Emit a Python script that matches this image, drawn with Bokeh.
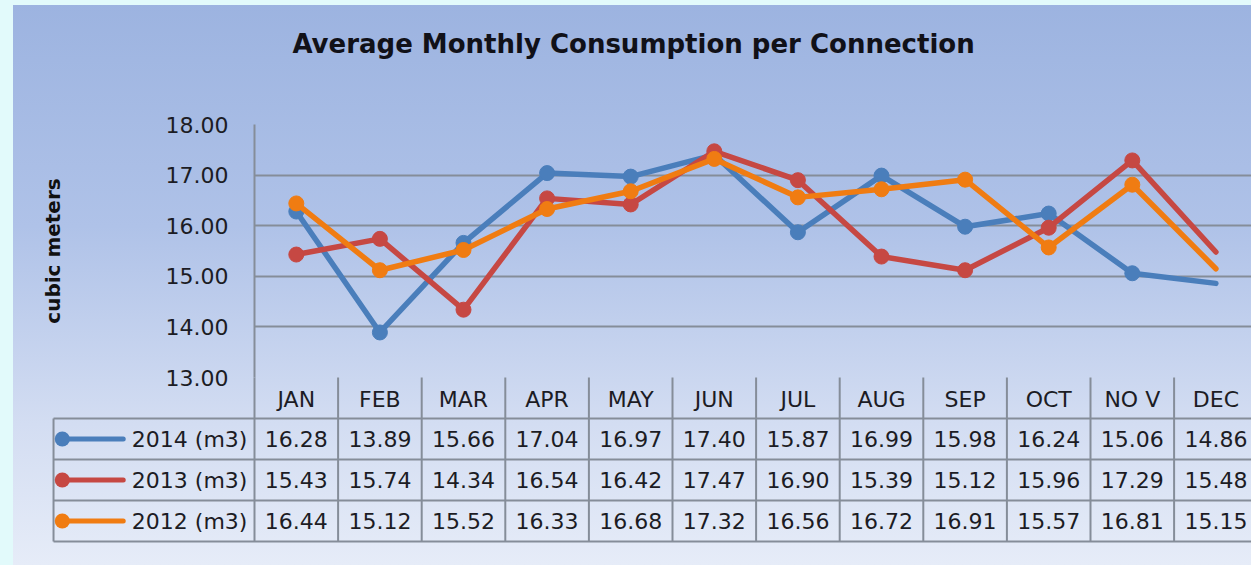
from bokeh.plotting import figure
from bokeh.models import Range1d, FixedTicker, ColumnDataSource, NumeralTickFormatter
from bokeh.core.properties import value
from bokeh.embed import file_html
from bokeh.resources import INLINE

# ---------------- data ----------------
months = ["JAN", "FEB", "MAR", "APR", "MAY", "JUN", "JUL", "AUG", "SEP", "OCT", "NO V", "DEC"]
series_names = ["2014 (m3)", "2013 (m3)", "2012 (m3)"]
v2014 = [16.28, 13.89, 15.66, 17.04, 16.97, 17.40, 15.87, 16.99, 15.98, 16.24, 15.06, 14.86]
v2013 = [15.43, 15.74, 14.34, 16.54, 16.42, 17.47, 16.90, 15.39, 15.12, 15.96, 17.29, 15.48]
v2012 = [16.44, 15.12, 15.52, 16.33, 16.68, 17.32, 16.56, 16.72, 16.91, 15.57, 16.81, 15.15]
y_ticks = [13, 14, 15, 16, 17, 18]
title_text = "Average Monthly Consumption per Connection"
y_label = "cubic meters"

# ---------------- style ----------------
colors = ["#4a7ebb", "#c64843", "#f07c12"]
grid_color = "#858d99"
text_color = "#1c1c24"
FONT = "DejaVu Sans"

W, H = 1251, 565
left, top, bottom = 254, 124, 188
col_px = 83.6
row_px = 41.0
frame_w = W - left
frame_h = H - top - bottom

x_max = frame_w / col_px
p = figure(width=W, height=H, output_backend="svg", toolbar_location=None,
           x_range=Range1d(0, x_max), y_range=Range1d(y_ticks[0], y_ticks[-1]),
           min_border_left=left, min_border_right=0, min_border_top=top,
           min_border_bottom=bottom)
# table coordinate: 0 at the bottom of the plot area, rows increase downward
t_top = -frame_h / row_px
p.extra_y_ranges = {"table": Range1d(start=0, end=t_top)}

p.background_fill_color = None
p.border_fill_color = None
p.outline_line_color = None
p.styles = {
    "background-image": "linear-gradient(to right, #e2fafb 0px, #e2fafb 13px, rgba(0,0,0,0) 13px),"
                        "linear-gradient(to bottom, #e2fafb 0px, #e2fafb 5px, rgba(0,0,0,0) 5px),"
                        "linear-gradient(to bottom, #9cb3e0 0%, #afc2e8 40%, #d3ddf2 75%, #e6ecf8 100%)"
}

# grid
p.xgrid.visible = False
p.ygrid.ticker = FixedTicker(ticks=y_ticks)
p.ygrid.grid_line_color = grid_color
p.ygrid.grid_line_width = 2

# y axis
p.yaxis.ticker = FixedTicker(ticks=y_ticks)
p.yaxis.formatter = NumeralTickFormatter(format="0.00")
p.yaxis.major_tick_line_color = None
p.yaxis.major_tick_out = 0
p.yaxis.major_tick_in = 0
p.yaxis.minor_tick_line_color = None
p.yaxis.axis_line_color = None
p.yaxis.major_label_text_font = FONT
p.yaxis.major_label_text_font_size = "22px"
p.yaxis.major_label_text_color = text_color
p.yaxis.major_label_standoff = 26
p.yaxis.axis_label = y_label
p.yaxis.axis_label_text_font = FONT
p.yaxis.axis_label_text_font_size = "20px"
p.yaxis.axis_label_text_font_style = "bold"
p.yaxis.axis_label_text_color = "#111111"
p.yaxis.axis_label_standoff = 98

# x axis = table header
xs = [i + 0.5 for i in range(len(months))]
p.xaxis.ticker = FixedTicker(ticks=xs)
p.xaxis.major_label_overrides = {x: m for x, m in zip(xs, months)}
p.xaxis.major_tick_line_color = None
p.xaxis.major_tick_out = 0
p.xaxis.major_tick_in = 0
p.xaxis.minor_tick_line_color = None
p.xaxis.axis_line_color = None
p.xaxis.major_label_text_font = FONT
p.xaxis.major_label_text_font_size = "22px"
p.xaxis.major_label_text_color = text_color
p.xaxis.major_label_standoff = 9

# ---------------- table lines ----------------
n_rows = len(series_names) + 1
leg_left = -2.404
vx = list(range(len(months) + 1))
p.segment(x0=vx, y0=[0] * len(vx), x1=vx, y1=[n_rows] * len(vx), y_range_name="table",
          line_color=grid_color, line_width=2, level="overlay")
p.segment(x0=[0], y0=[t_top], x1=[0], y1=[0], y_range_name="table",
          line_color=grid_color, line_width=2, level="overlay")
p.segment(x0=[leg_left], y0=[1], x1=[leg_left], y1=[n_rows], y_range_name="table",
          line_color=grid_color, line_width=2, level="overlay")
hr = list(range(1, n_rows + 1))
p.segment(x0=[leg_left] * len(hr), y0=hr, x1=[len(months) + 1] * len(hr), y1=hr,
          y_range_name="table", line_color=grid_color, line_width=2, level="overlay")

# ---------------- series ----------------
all_vals = [v2014, v2013, v2012]
for r, (name, vals, c) in enumerate(zip(series_names, all_vals, colors)):
    src = ColumnDataSource(dict(x=xs, y=vals))
    p.line("x", "y", source=src, line_color=c, line_width=5.5, line_join="round", line_cap="round")
    msrc = ColumnDataSource(dict(x=xs[:-1], y=vals[:-1]))
    p.scatter("x", "y", source=msrc, size=15, fill_color=c, line_color=c)

    row_c = r + 1.5
    tsrc = ColumnDataSource(dict(x=xs, t=[row_c] * len(xs), s=[f"{v:.2f}" for v in vals]))
    p.text("x", "t", text="s", source=tsrc, y_range_name="table", level="overlay",
           text_align="center", text_baseline="middle", text_font=value(FONT),
           text_font_size="22px", text_color=text_color)
    # legend key: line + round dot
    p.segment(x0=[-2.30], y0=[row_c], x1=[-1.57], y1=[row_c], y_range_name="table",
              line_color=c, line_width=5, line_cap="round", level="overlay")
    p.segment(x0=[-2.30], y0=[row_c], x1=[-2.298], y1=[row_c], y_range_name="table",
              line_color=c, line_width=15, line_cap="round", level="overlay")
    p.text(x=[-0.085], y=[row_c], text=[name], y_range_name="table", level="overlay",
           text_align="right", text_baseline="middle", text_font=value(FONT),
           text_font_size="22px", text_color=text_color)

# title
title_t = (43 - (top + frame_h)) / row_px
p.text(x=[4.534], y=[title_t], text=[title_text], y_range_name="table", level="overlay",
       text_align="center", text_baseline="middle", text_font=value(FONT),
       text_font_size="26px", text_font_style="bold", text_color="#111118")

html = file_html(p, INLINE).replace("</head>", "<style>html,body{background:#e6ecf8;}</style></head>", 1)
open("out.html", "w").write(html)
